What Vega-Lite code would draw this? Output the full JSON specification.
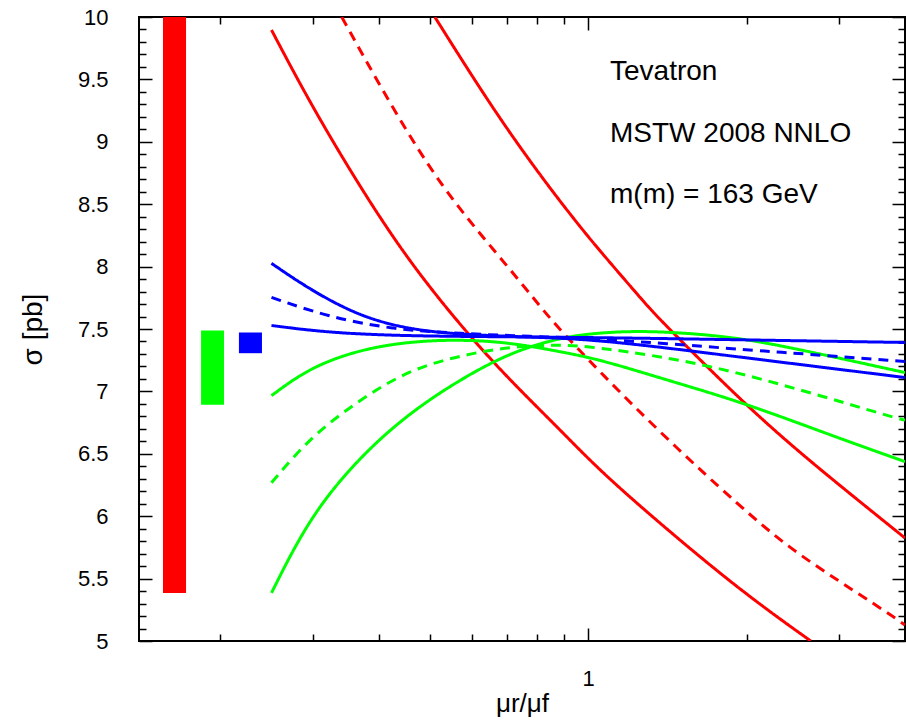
{
  "$schema": "https://vega.github.io/schema/vega-lite/v6.json",
  "autosize": "none",
  "padding": {"left": 139, "top": 17, "right": 1, "bottom": 81},
  "width": 766,
  "height": 624,
  "background": "white",
  "config": {
    "font": "Liberation Sans",
    "view": {"stroke": "black", "strokeWidth": 2},
    "axis": {
      "domain": false,
      "grid": false,
      "tickColor": "black",
      "tickWidth": 1.5,
      "labelColor": "black",
      "labelFont": "Liberation Sans",
      "labelFontSize": 22,
      "titleColor": "black",
      "titleFont": "Liberation Sans",
      "titleFontSize": 28,
      "titleFontWeight": "normal"
    }
  },
  "datasets": {
    "bars": [
      {"x": 0.1555, "x2": 0.172, "y": 5.385, "y2": 10, "color": "red"},
      {"x": 0.1837, "x2": 0.2031, "y": 6.894, "y2": 7.488, "color": "green"},
      {"x": 0.2168, "x2": 0.2398, "y": 7.306, "y2": 7.472, "color": "blue"}
    ],
    "curves": [
      {"series": "R1", "color": "red", "style": "solid", "x": 0.25, "y": 9.896},
      {"series": "R1", "color": "red", "style": "solid", "x": 0.2954, "y": 9.316},
      {"series": "R1", "color": "red", "style": "solid", "x": 0.3679, "y": 8.639},
      {"series": "R1", "color": "red", "style": "solid", "x": 0.458, "y": 8.03},
      {"series": "R1", "color": "red", "style": "solid", "x": 0.588, "y": 7.466},
      {"series": "R1", "color": "red", "style": "solid", "x": 0.71, "y": 7.089},
      {"series": "R1", "color": "red", "style": "solid", "x": 0.884, "y": 6.693},
      {"series": "R1", "color": "red", "style": "solid", "x": 1.054, "y": 6.36},
      {"series": "R1", "color": "red", "style": "solid", "x": 1.414, "y": 5.89},
      {"series": "R1", "color": "red", "style": "solid", "x": 1.974, "y": 5.385},
      {"series": "R1", "color": "red", "style": "solid", "x": 2.648, "y": 5.0},

      {"series": "R2", "color": "red", "style": "dashed", "x": 0.34, "y": 10.0},
      {"series": "R2", "color": "red", "style": "dashed", "x": 0.4252, "y": 9.262},
      {"series": "R2", "color": "red", "style": "dashed", "x": 0.5294, "y": 8.62},
      {"series": "R2", "color": "red", "style": "dashed", "x": 0.6649, "y": 8.122},
      {"series": "R2", "color": "red", "style": "dashed", "x": 0.7996, "y": 7.713},
      {"series": "R2", "color": "red", "style": "dashed", "x": 0.858, "y": 7.552},
      {"series": "R2", "color": "red", "style": "dashed", "x": 1.054, "y": 7.151},
      {"series": "R2", "color": "red", "style": "dashed", "x": 1.414, "y": 6.613},
      {"series": "R2", "color": "red", "style": "dashed", "x": 1.948, "y": 6.075},
      {"series": "R2", "color": "red", "style": "dashed", "x": 2.393, "y": 5.754},
      {"series": "R2", "color": "red", "style": "dashed", "x": 3.02, "y": 5.47},
      {"series": "R2", "color": "red", "style": "dashed", "x": 3.711, "y": 5.225},
      {"series": "R2", "color": "red", "style": "dashed", "x": 4.0, "y": 5.128},

      {"series": "R3", "color": "red", "style": "solid", "x": 0.511, "y": 10.0},
      {"series": "R3", "color": "red", "style": "solid", "x": 0.659, "y": 9.26},
      {"series": "R3", "color": "red", "style": "solid", "x": 0.821, "y": 8.697},
      {"series": "R3", "color": "red", "style": "solid", "x": 0.9655, "y": 8.317},
      {"series": "R3", "color": "red", "style": "solid", "x": 1.054, "y": 8.123},
      {"series": "R3", "color": "red", "style": "solid", "x": 1.273, "y": 7.721},
      {"series": "R3", "color": "red", "style": "solid", "x": 1.371, "y": 7.57},
      {"series": "R3", "color": "red", "style": "solid", "x": 1.974, "y": 6.905},
      {"series": "R3", "color": "red", "style": "solid", "x": 2.533, "y": 6.504},
      {"series": "R3", "color": "red", "style": "solid", "x": 3.155, "y": 6.175},
      {"series": "R3", "color": "red", "style": "solid", "x": 4.0, "y": 5.825},

      {"series": "G1", "color": "green", "style": "solid", "x": 0.25, "y": 6.966},
      {"series": "G1", "color": "green", "style": "solid", "x": 0.2954, "y": 7.191},
      {"series": "G1", "color": "green", "style": "solid", "x": 0.3679, "y": 7.335},
      {"series": "G1", "color": "green", "style": "solid", "x": 0.458, "y": 7.4},
      {"series": "G1", "color": "green", "style": "solid", "x": 0.5705, "y": 7.416},
      {"series": "G1", "color": "green", "style": "solid", "x": 0.71, "y": 7.392},
      {"series": "G1", "color": "green", "style": "solid", "x": 0.884, "y": 7.319},
      {"series": "G1", "color": "green", "style": "solid", "x": 1.054, "y": 7.255},
      {"series": "G1", "color": "green", "style": "solid", "x": 1.414, "y": 7.09},
      {"series": "G1", "color": "green", "style": "solid", "x": 1.974, "y": 6.91},
      {"series": "G1", "color": "green", "style": "solid", "x": 2.929, "y": 6.64},
      {"series": "G1", "color": "green", "style": "solid", "x": 4.0, "y": 6.437},

      {"series": "G2", "color": "green", "style": "dashed", "x": 0.25, "y": 6.268},
      {"series": "G2", "color": "green", "style": "dashed", "x": 0.2954, "y": 6.629},
      {"series": "G2", "color": "green", "style": "dashed", "x": 0.3679, "y": 6.934},
      {"series": "G2", "color": "green", "style": "dashed", "x": 0.458, "y": 7.175},
      {"series": "G2", "color": "green", "style": "dashed", "x": 0.5705, "y": 7.287},
      {"series": "G2", "color": "green", "style": "dashed", "x": 0.71, "y": 7.36},
      {"series": "G2", "color": "green", "style": "dashed", "x": 0.884, "y": 7.376},
      {"series": "G2", "color": "green", "style": "dashed", "x": 1.054, "y": 7.352},
      {"series": "G2", "color": "green", "style": "dashed", "x": 1.634, "y": 7.231},
      {"series": "G2", "color": "green", "style": "dashed", "x": 2.533, "y": 7.014},
      {"series": "G2", "color": "green", "style": "dashed", "x": 3.811, "y": 6.79},
      {"series": "G2", "color": "green", "style": "dashed", "x": 4.0, "y": 6.77},

      {"series": "G3", "color": "green", "style": "solid", "x": 0.25, "y": 5.385},
      {"series": "G3", "color": "green", "style": "solid", "x": 0.2954, "y": 5.995},
      {"series": "G3", "color": "green", "style": "solid", "x": 0.3679, "y": 6.477},
      {"series": "G3", "color": "green", "style": "solid", "x": 0.458, "y": 6.83},
      {"series": "G3", "color": "green", "style": "solid", "x": 0.5705, "y": 7.095},
      {"series": "G3", "color": "green", "style": "solid", "x": 0.71, "y": 7.311},
      {"series": "G3", "color": "green", "style": "solid", "x": 0.884, "y": 7.432},
      {"series": "G3", "color": "green", "style": "solid", "x": 1.054, "y": 7.472},
      {"series": "G3", "color": "green", "style": "solid", "x": 1.312, "y": 7.488},
      {"series": "G3", "color": "green", "style": "solid", "x": 1.889, "y": 7.44},
      {"series": "G3", "color": "green", "style": "solid", "x": 2.533, "y": 7.335},
      {"series": "G3", "color": "green", "style": "solid", "x": 4.0, "y": 7.151},

      {"series": "B1", "color": "blue", "style": "solid", "x": 0.25, "y": 8.026},
      {"series": "B1", "color": "blue", "style": "solid", "x": 0.2954, "y": 7.817},
      {"series": "B1", "color": "blue", "style": "solid", "x": 0.3679, "y": 7.6},
      {"series": "B1", "color": "blue", "style": "solid", "x": 0.458, "y": 7.496},
      {"series": "B1", "color": "blue", "style": "solid", "x": 0.5705, "y": 7.456},
      {"series": "B1", "color": "blue", "style": "solid", "x": 0.775, "y": 7.435},
      {"series": "B1", "color": "blue", "style": "solid", "x": 1.054, "y": 7.416},
      {"series": "B1", "color": "blue", "style": "solid", "x": 1.974, "y": 7.271},
      {"series": "B1", "color": "blue", "style": "solid", "x": 2.533, "y": 7.215},
      {"series": "B1", "color": "blue", "style": "solid", "x": 4.0, "y": 7.111},

      {"series": "B2", "color": "blue", "style": "dashed", "x": 0.25, "y": 7.753},
      {"series": "B2", "color": "blue", "style": "dashed", "x": 0.3184, "y": 7.6},
      {"series": "B2", "color": "blue", "style": "dashed", "x": 0.4252, "y": 7.496},
      {"series": "B2", "color": "blue", "style": "dashed", "x": 0.5705, "y": 7.464},
      {"series": "B2", "color": "blue", "style": "dashed", "x": 0.775, "y": 7.44},
      {"series": "B2", "color": "blue", "style": "dashed", "x": 1.054, "y": 7.424},
      {"series": "B2", "color": "blue", "style": "dashed", "x": 1.974, "y": 7.335},
      {"series": "B2", "color": "blue", "style": "dashed", "x": 2.533, "y": 7.303},
      {"series": "B2", "color": "blue", "style": "dashed", "x": 4.0, "y": 7.239},

      {"series": "B3", "color": "blue", "style": "solid", "x": 0.25, "y": 7.528},
      {"series": "B3", "color": "blue", "style": "solid", "x": 0.3184, "y": 7.472},
      {"series": "B3", "color": "blue", "style": "solid", "x": 0.4252, "y": 7.448},
      {"series": "B3", "color": "blue", "style": "solid", "x": 0.5705, "y": 7.44},
      {"series": "B3", "color": "blue", "style": "solid", "x": 1.054, "y": 7.432},
      {"series": "B3", "color": "blue", "style": "solid", "x": 1.974, "y": 7.413},
      {"series": "B3", "color": "blue", "style": "solid", "x": 4.0, "y": 7.392}
    ],
    "notes": [
      {"x": 1.1, "y": 9.495, "text": "Tevatron"},
      {"x": 1.1, "y": 8.998, "text": "MSTW 2008 NNLO"},
      {"x": 1.1, "y": 8.51, "text": "m(m) = 163 GeV"}
    ]
  },
  "resolve": {"axis": {"x": "independent", "y": "independent"}},
  "layer": [
    {
      "data": {"name": "bars"},
      "mark": {"type": "rect"},
      "encoding": {
        "x": {"field": "x", "type": "quantitative", "scale": {"type": "log", "domain": [0.14, 4], "nice": false}, "axis": null},
        "x2": {"field": "x2"},
        "y": {"field": "y", "type": "quantitative", "scale": {"domain": [5, 10], "nice": false, "zero": false}, "axis": null},
        "y2": {"field": "y2"},
        "color": {"field": "color", "type": "nominal", "scale": {"domain": ["red", "green", "blue"], "range": ["#ff0000", "#00ff00", "#0000ff"]}, "legend": null}
      }
    },
    {
      "data": {"name": "curves"},
      "mark": {"type": "line", "strokeWidth": 3, "clip": true, "strokeCap": "butt", "interpolate": "basis"},
      "encoding": {
        "x": {
          "field": "x", "type": "quantitative",
          "scale": {"type": "log", "domain": [0.14, 4], "nice": false},
          "axis": {
            "orient": "bottom",
            "values": [0.2, 0.3, 0.4, 0.5, 0.6, 0.7, 0.8, 0.9, 1, 2, 3],
            "labelExpr": "datum.value == 1 ? '1' : ''",
            "tickSize": {"condition": {"test": "datum.value == 1", "value": -13}, "value": -7},
            "labelPadding": 40,
            "title": "μr/μf",
            "titleFontSize": 26,
            "titlePadding": 1
          }
        },
        "y": {
          "field": "y", "type": "quantitative",
          "scale": {"domain": [5, 10], "nice": false, "zero": false},
          "axis": {
            "orient": "left",
            "values": [5, 5.1, 5.2, 5.3, 5.4, 5.5, 5.6, 5.7, 5.8, 5.9, 6, 6.1, 6.2, 6.3, 6.4, 6.5, 6.6, 6.7, 6.8, 6.9, 7, 7.1, 7.2, 7.3, 7.4, 7.5, 7.6, 7.7, 7.8, 7.9, 8, 8.1, 8.2, 8.3, 8.4, 8.5, 8.6, 8.7, 8.8, 8.9, 9, 9.1, 9.2, 9.3, 9.4, 9.5, 9.6, 9.7, 9.8, 9.9, 10],
            "labelExpr": "round(datum.value * 10) % 5 == 0 ? '' + (round(datum.value * 10) / 10) : ''",
            "tickSize": {"condition": {"test": "round(datum.value * 10) % 5 == 0", "value": -13}, "value": -7},
            "labelPadding": 44,
            "title": "σ [pb]",
            "titlePadding": 30
          }
        },
        "color": {"field": "color", "type": "nominal", "scale": {"domain": ["red", "green", "blue"], "range": ["#ff0000", "#00ff00", "#0000ff"]}, "legend": null},
        "strokeDash": {"field": "style", "type": "nominal", "scale": {"domain": ["solid", "dashed"], "range": [[1, 0], [10, 7]]}, "legend": null},
        "detail": {"field": "series"}
      }
    },
    {
      "data": {"name": "notes"},
      "mark": {"type": "text", "align": "left", "baseline": "alphabetic", "fontSize": 28, "font": "Liberation Sans", "color": "black"},
      "encoding": {
        "x": {
          "field": "x", "type": "quantitative",
          "scale": {"type": "log", "domain": [0.14, 4], "nice": false},
          "axis": {
            "orient": "top",
            "values": [0.2, 0.3, 0.4, 0.5, 0.6, 0.7, 0.8, 0.9, 1, 2, 3],
            "labels": false,
            "tickSize": {"condition": {"test": "datum.value == 1", "value": -13}, "value": -7},
            "title": null
          }
        },
        "y": {
          "field": "y", "type": "quantitative",
          "scale": {"domain": [5, 10], "nice": false, "zero": false},
          "axis": {
            "orient": "right",
            "values": [5, 5.1, 5.2, 5.3, 5.4, 5.5, 5.6, 5.7, 5.8, 5.9, 6, 6.1, 6.2, 6.3, 6.4, 6.5, 6.6, 6.7, 6.8, 6.9, 7, 7.1, 7.2, 7.3, 7.4, 7.5, 7.6, 7.7, 7.8, 7.9, 8, 8.1, 8.2, 8.3, 8.4, 8.5, 8.6, 8.7, 8.8, 8.9, 9, 9.1, 9.2, 9.3, 9.4, 9.5, 9.6, 9.7, 9.8, 9.9, 10],
            "labels": false,
            "tickSize": {"condition": {"test": "round(datum.value * 10) % 5 == 0", "value": -13}, "value": -7},
            "title": null
          }
        },
        "text": {"field": "text"}
      }
    }
  ]
}
